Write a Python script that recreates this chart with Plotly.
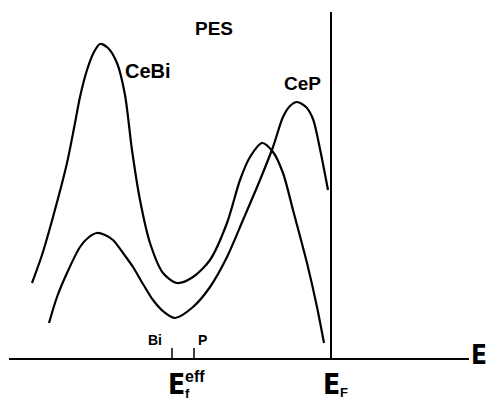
import plotly.graph_objects as go

# ---- data (arbitrary energy / intensity units) ----
cebi_energy = [32, 42, 53, 67, 75, 80, 87, 94, 100, 108, 117, 125, 132, 140, 150, 163, 177,
               193, 210, 227, 240, 250, 262, 273, 283, 293, 307, 317, 324]
cebi_intensity = [76, 104, 142, 196, 236, 262, 289, 307, 315, 311, 296, 264, 209, 159, 116, 86, 76,
                  82, 99, 136, 179, 202, 216, 207, 186, 149, 96, 52, 16]

cep_energy = [49, 57, 67, 80, 89, 97, 105, 113, 123, 133, 143, 153, 164, 175,
              193, 210, 227, 243, 260, 273, 283, 290, 297, 306, 313, 320, 328]
cep_intensity = [36, 62, 86, 112, 122, 126, 124, 119, 106, 92, 75, 59, 47, 41,
                 52, 72, 102, 139, 179, 212, 242, 253, 257, 252, 240, 210, 169]

ef_eff_bi = 172      # effective f-level position for CeBi
ef_eff_p = 194       # effective f-level position for CeP
e_fermi = 331        # Fermi level
axis_start, axis_end = 9, 469
ef_top = 347

fig = go.Figure()
for xs, ys in [(cebi_energy, cebi_intensity), (cep_energy, cep_intensity)]:
    fig.add_trace(go.Scatter(x=xs, y=ys, mode="lines",
                             line=dict(color="black", width=2.2, shape="spline", smoothing=0.8),
                             hoverinfo="skip", showlegend=False))

shapes = [
    dict(type="line", x0=axis_start, x1=axis_end, y0=0, y1=0, line=dict(color="black", width=2)),
    dict(type="line", x0=e_fermi, x1=e_fermi, y0=0, y1=ef_top, line=dict(color="black", width=2)),
    dict(type="line", x0=ef_eff_bi, x1=ef_eff_bi, y0=0, y1=11, line=dict(color="black", width=1.5)),
    dict(type="line", x0=ef_eff_p, x1=ef_eff_p, y0=0, y1=11, line=dict(color="black", width=1.5)),
]

FONT = "Liberation Sans, Arial, sans-serif"
NARROW = "Liberation Sans Narrow, DejaVu Sans Condensed, Liberation Sans, sans-serif"

def ann(text, x, y, size, family=FONT):
    return dict(text=text, x=x, y=y, xref="x", yref="y", showarrow=False,
                xanchor="center", yanchor="middle",
                font=dict(family=family, size=size, color="black", weight="bold"))

annotations = [
    ann("PES", 214, 331, 19),
    ann("CeBi", 148, 288, 20),
    ann("CeP", 302, 276, 19),
    ann("Bi", 155, 19, 14),
    ann("P", 202, 19, 14),
    ann("E", 176, -25, 28, NARROW),
    ann("f", 187, -34, 13),
    ann("eff", 195, -17, 16),
    ann("E", 331, -25, 28, NARROW),
    ann("F", 344, -33, 13),
    ann("E", 479, 4, 26, NARROW),
]

fig.update_layout(
    width=488, height=400,
    margin=dict(l=0, r=0, t=0, b=0, pad=0),
    paper_bgcolor="white", plot_bgcolor="white",
    xaxis=dict(range=[0, 488], visible=False, fixedrange=True),
    yaxis=dict(range=[-41, 359], visible=False, fixedrange=True),
    shapes=shapes, annotations=annotations,
    showlegend=False,
)

# remove the default page margin so the figure fills the 488x400 window exactly
fig.write_html("out.html",
               config={"displayModeBar": False, "staticPlot": True},
               post_script="document.body.style.margin='0';document.body.style.overflow='hidden';")
